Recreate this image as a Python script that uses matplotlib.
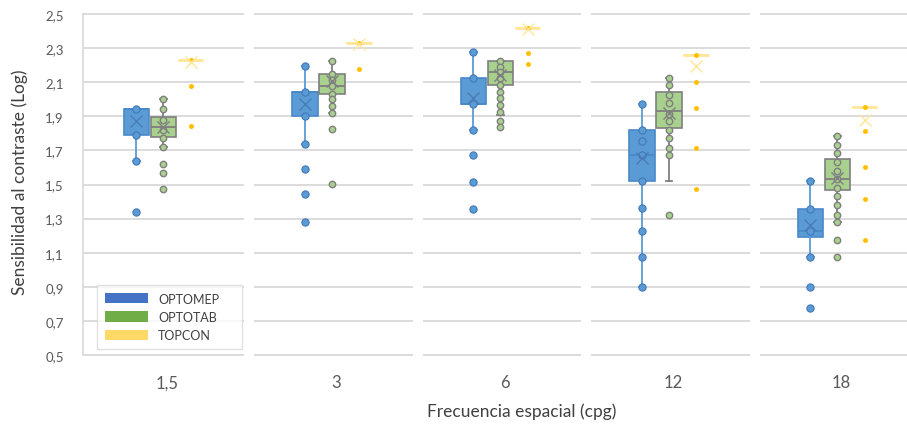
import numpy as np
import matplotlib
matplotlib.use('Agg')
import matplotlib.pyplot as plt
from matplotlib.patches import Patch

plt.rcParams['font.family'] = ['Lato', 'DejaVu Sans']

#%% data
categories = ['1,5', '3', '6', '12', '18']
series = ['OPTOMEP', 'OPTOTAB', 'TOPCON']

# OPTOMEP
optomep_q1 = [1.79, 1.90, 1.97, 1.52, 1.19]
optomep_med = [1.94, 2.04, 1.97, 1.675, 1.228]
optomep_q3 = [1.94, 2.04, 2.125, 1.82, 1.357]
optomep_lo = [1.64, 1.74, 1.82, 0.90, 1.075]
optomep_hi = [1.94, 2.195, 2.275, 1.97, 1.518]
optomep_mean = [1.87, 1.97, 2.01, 1.655, 1.264]
optomep_pts = [[1.94, 1.79, 1.64, 1.34],
               [2.195, 2.04, 1.90, 1.74, 1.59, 1.445, 1.28],
               [2.275, 2.125, 1.97, 1.82, 1.675, 1.515, 1.355],
               [1.97, 1.82, 1.757, 1.675, 1.52, 1.36, 1.23, 1.075, 0.90],
               [1.518, 1.357, 1.23, 1.075, 0.897, 0.775]]

# OPTOTAB
optotab_q1 = [1.78, 2.03, 2.085, 1.833, 1.466]
optotab_med = [1.84, 2.075, 2.157, 1.931, 1.534]
optotab_q3 = [1.895, 2.15, 2.224, 2.044, 1.649]
optotab_lo = [1.72, 1.922, 1.905, 1.518, 1.278]
optotab_hi = [2.0, 2.224, 2.224, 2.124, 1.783]
optotab_mean = [1.835, 2.108, 2.141, 1.917, 1.538]
optotab_pts = [[2.0, 1.94, 1.88, 1.82, 1.775, 1.72, 1.62, 1.567, 1.475],
               [2.224, 2.15, 2.113, 2.075, 2.03, 2.0, 1.962, 1.922, 1.827, 1.504],
               [2.224, 2.19, 2.157, 2.124, 2.085, 2.044, 2.005, 1.966, 1.923, 1.872, 1.837],
               [2.124, 2.082, 2.025, 1.98, 1.913, 1.872, 1.82, 1.773, 1.716, 1.675, 1.321],
               [1.783, 1.734, 1.683, 1.634, 1.577, 1.534, 1.478, 1.433, 1.381, 1.323,
                1.278, 1.174, 1.075]]

# TOPCON (boxes collapse to a single line)
topcon_box = [2.232, 2.328, 2.42, 2.26, 1.956]
topcon_mean = [2.22, 2.325, 2.41, 2.193, 1.878]
topcon_pts = [[2.232, 2.079, 1.845],
              [2.328, 2.179],
              [2.42, 2.271, 2.208],
              [2.26, 2.10, 1.949, 1.716, 1.475],
              [1.956, 1.815, 1.60, 1.415, 1.174]]

yticks = [0.5, 0.7, 0.9, 1.1, 1.3, 1.5, 1.7, 1.9, 2.1, 2.3, 2.5]

#%% styles
offsets = [-0.184, -0.024, 0.137]
box_w = 0.15
grid_col = '#D9D9D9'
txt_col = '#595959'

fig = plt.figure(figsize=(9.07, 4.27), dpi=100)
ax = fig.add_axes([83.25/907, 1-356/427, (907-83.25)/907, 341/427])

# gridlines broken at each category boundary, as in the original
for i in range(len(categories)):
    x0 = -0.5 if i == 0 else i - 0.5 + 0.015
    x1 = i + 0.5 - 0.045
    ax.hlines(yticks, x0, x1, colors=grid_col, lw=1.3, zorder=0, clip_on=False)

def make_stats(q1, med, q3, lo, hi, mean):
    return [dict(q1=a, med=b, q3=c, whislo=d, whishi=e, mean=f, fliers=[])
            for a, b, c, d, e, f in zip(q1, med, q3, lo, hi, mean)]

stats_all = [
    make_stats(optomep_q1, optomep_med, optomep_q3, optomep_lo, optomep_hi, optomep_mean),
    make_stats(optotab_q1, optotab_med, optotab_q3, optotab_lo, optotab_hi, optotab_mean),
    make_stats(topcon_box, topcon_box, topcon_box, topcon_box, topcon_box, topcon_mean),
]
points_all = [optomep_pts, optotab_pts, topcon_pts]

styles = [
    dict(fill='#5B9BD5', edge='#4A89C8', line='#5B9BD5', mean='#4A7DB5',
         pfill='#5B9BD5', pedge='#4178B8', ms=5.2, mew=0.8),
    dict(fill='#A9D18E', edge='#7F7F7F', line='#7F7F7F', mean='#7F7F7F',
         pfill='#A9D18E', pedge='#7F7F7F', ms=4.6, mew=1.0),
    dict(fill='none', edge='#FFE699', line='#FFE699', mean='#FFE699',
         pfill='#FFC000', pedge='#FFC000', ms=3.6, mew=0),
]

for k in range(3):
    st = styles[k]
    pos = np.arange(len(categories)) + offsets[k]
    ax.bxp(stats_all[k], positions=pos, widths=box_w, showmeans=True,
           showfliers=False, patch_artist=True, capwidths=0.04,
           boxprops=dict(facecolor=st['fill'], edgecolor=st['edge'],
                         lw=2.0 if k == 2 else 1.2),
           whiskerprops=dict(color=st['line'], lw=1.3),
           capprops=dict(color=st['line'], lw=1.3),
           medianprops=dict(color=st['edge'], lw=1.3),
           meanprops=dict(marker='x', markeredgecolor=st['mean'], markersize=9,
                          markeredgewidth=1.0, zorder=4),
           manage_ticks=False, zorder=2)
    for i, p in enumerate(points_all[k]):
        ax.plot([pos[i]]*len(p), p, 'o', color=st['pfill'], mec=st['pedge'],
                ms=st['ms'], mew=st['mew'], zorder=3, linestyle='none')

ax.set_xlim(-0.5, (907-83.25)/168.5 - 0.5)
ax.set_ylim(0.5, 2.5)
ax.set_xticks(range(len(categories)), categories)
ax.set_yticks(yticks, [f'{v:.1f}'.replace('.', ',') for v in yticks])
ax.tick_params(axis='y', length=0, pad=14, labelsize=9.5, labelcolor=txt_col)
ax.tick_params(axis='x', length=0, pad=14, labelsize=12, labelcolor=txt_col)

for s in ['top', 'right', 'bottom']:
    ax.spines[s].set_visible(False)
ax.spines['left'].set_color(grid_col)
ax.spines['left'].set_linewidth(1.2)

ax.set_xlabel('Frecuencia espacial (cpg)', fontsize=12.5, color='#404040', va='center')
ax.xaxis.set_label_coords((521.5-83.25)/823.75, -(412-356)/341)
ax.set_ylabel('Sensibilidad al contraste (Log)', fontsize=12.5, color='#404040', va='center')
ax.yaxis.set_label_coords((19.5-83.25)/823.75, 0.51)

handles = [Patch(facecolor=c, edgecolor='none') for c in ['#4472C4', '#70AD47', '#FFD966']]
leg = fig.legend(handles, series, loc='upper left',
                 bbox_to_anchor=(97/907, 1-348/427, 145/907, 62/427),
                 mode='expand', borderaxespad=0, fontsize=9, frameon=True,
                 fancybox=False, handlelength=3.5, handleheight=0.9,
                 labelspacing=0.5, handletextpad=0.8, borderpad=0.6)
leg.get_frame().set_edgecolor(grid_col)
leg.get_frame().set_linewidth(1.0)
for t in leg.get_texts():
    t.set_color('#404040')

fig.savefig('out.png', dpi=100)
